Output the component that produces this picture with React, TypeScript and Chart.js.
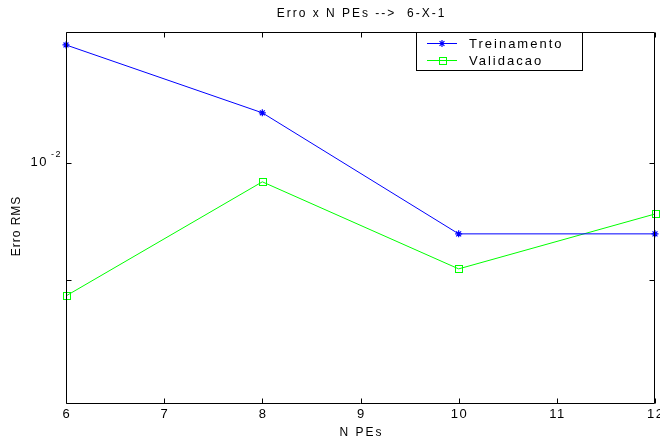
import React, { useEffect, useRef } from "react";
import { Chart, registerables } from "chart.js";

Chart.register(...registerables);

const xValues = [6, 8, 10, 12];
const treinamento = [0.0201, 0.01345, 0.00657, 0.00657];
const validacao = [0.00455, 0.00894, 0.00534, 0.00739];
const xTickValues = [6, 7, 8, 9, 10, 11, 12];
const yTickValues = [0.005, 0.01];
const yMin = 0.0024;
const yMax = 0.0217;
const titleText = "Erro x N PEs -->  6-X-1";
const xTitle = "N PEs";
const yTitle = "Erro RMS";
const seriesNames = ["Treinamento", "Validacao"];

const FONT = '"Liberation Sans", Arial, Helvetica, sans-serif';
const BLUE = "#0000ff";
const GREEN = "#00ff00";

function drawStar(ctx: CanvasRenderingContext2D, cx: number, cy: number, r: number, color: string) {
  ctx.save();
  ctx.strokeStyle = color;
  ctx.lineWidth = 1.2;
  ctx.beginPath();
  ctx.moveTo(cx - r, cy);
  ctx.lineTo(cx + r, cy);
  ctx.moveTo(cx, cy - r);
  ctx.lineTo(cx, cy + r);
  const d = r * 0.7;
  ctx.moveTo(cx - d, cy - d);
  ctx.lineTo(cx + d, cy + d);
  ctx.moveTo(cx - d, cy + d);
  ctx.lineTo(cx + d, cy - d);
  ctx.stroke();
  ctx.restore();
}

function drawSquare(ctx: CanvasRenderingContext2D, cx: number, cy: number, r: number, color: string) {
  ctx.save();
  ctx.strokeStyle = color;
  ctx.lineWidth = 1;
  ctx.strokeRect(Math.round(cx - r) + 0.5, Math.round(cy - r) + 0.5, 2 * r, 2 * r);
  ctx.restore();
}

const decorPlugin = {
  id: "matlabDecor",
  afterDatasetsDraw(chart: any) {
    const ctx: CanvasRenderingContext2D = chart.ctx;
    const { left, right, top, bottom } = chart.chartArea;
    const xs = chart.scales.x;
    const ys = chart.scales.y;
    ctx.save();
    xValues.forEach((v, i) => {
      const px = xs.getPixelForValue(v);
      drawStar(ctx, px, ys.getPixelForValue(treinamento[i]), 3.5, BLUE);
      drawSquare(ctx, px, ys.getPixelForValue(validacao[i]), 3.5, GREEN);
    });

    ctx.strokeStyle = "#000";
    ctx.lineWidth = 1;
    const L = Math.round(left) + 0.5;
    const R = Math.round(right) - 0.5;
    const T = Math.round(top) + 0.5;
    const B = Math.round(bottom) - 0.5;
    ctx.beginPath();
    ctx.moveTo(L, T);
    ctx.lineTo(R, T);
    ctx.lineTo(R, B);
    ctx.lineTo(L, B);
    ctx.closePath();
    ctx.stroke();

    const tl = 5;
    ctx.beginPath();
    xTickValues.forEach((v) => {
      const px = Math.round(xs.getPixelForValue(v)) + 0.5;
      ctx.moveTo(px, B);
      ctx.lineTo(px, B - tl);
      ctx.moveTo(px, T);
      ctx.lineTo(px, T + tl);
    });
    yTickValues.forEach((v) => {
      const py = Math.round(ys.getPixelForValue(v)) + 0.5;
      ctx.moveTo(L, py);
      ctx.lineTo(L + tl, py);
      ctx.moveTo(R, py);
      ctx.lineTo(R - tl, py);
    });
    ctx.stroke();

    ctx.fillStyle = "#000";
    ctx.textBaseline = "middle";
    ctx.textAlign = "center";
    (ctx as any).letterSpacing = "1.5px";
    ctx.font = `13px ${FONT}`;
    xTickValues.forEach((v) => {
      const px = xs.getPixelForValue(v);
      ctx.fillText(String(v), px + 0.75, bottom + 10);
    });
    (ctx as any).letterSpacing = "2px";
    ctx.font = `12px ${FONT}`;
    ctx.fillText(xTitle, (left + right) / 2 + 1, bottom + 29);
    ctx.fillText(titleText, (left + right) / 2 + 1, 14);

    const py = ys.getPixelForValue(0.01);
    (ctx as any).letterSpacing = "1.5px";
    ctx.textAlign = "right";
    ctx.font = `13px ${FONT}`;
    ctx.fillText("10", left - 18, py);
    ctx.textAlign = "left";
    ctx.font = `9px ${FONT}`;
    ctx.fillText("-2", left - 15, py - 8);

    ctx.save();
    (ctx as any).letterSpacing = "1px";
    ctx.font = `12px ${FONT}`;
    ctx.translate(17, 226);
    ctx.rotate(-Math.PI / 2);
    ctx.textAlign = "center";
    ctx.fillText(yTitle, 0, 0);
    ctx.restore();

    const lx0 = 416.5, ly0 = Math.round(top) + 0.5, lx1 = 582.5, ly1 = 70.5;
    ctx.fillStyle = "#fff";
    ctx.fillRect(lx0, ly0, lx1 - lx0, ly1 - ly0);
    ctx.strokeStyle = "#000";
    ctx.strokeRect(lx0, ly0, lx1 - lx0, ly1 - ly0);
    const rows = [43, 60];
    const colors = [BLUE, GREEN];
    rows.forEach((ry, i) => {
      ctx.strokeStyle = colors[i];
      ctx.lineWidth = 1;
      ctx.beginPath();
      ctx.moveTo(427, ry + 0.5);
      ctx.lineTo(457, ry + 0.5);
      ctx.stroke();
      if (i === 0) drawStar(ctx, 442, ry + 0.5, 3.5, BLUE);
      else drawSquare(ctx, 442, ry, 3.5, GREEN);
      ctx.fillStyle = "#000";
      ctx.font = `13px ${FONT}`;
      (ctx as any).letterSpacing = "2px";
      ctx.textAlign = "left";
      ctx.textBaseline = "middle";
      ctx.fillText(seriesNames[i], 469, ry + 1);
    });
    ctx.restore();
  },
};

export default function App() {
  const ref = useRef<HTMLCanvasElement | null>(null);
  useEffect(() => {
    if (!ref.current) return;
    const chart = new Chart(ref.current, {
      type: "line",
      data: {
        datasets: [
          {
            label: seriesNames[0],
            data: xValues.map((x, i) => ({ x, y: treinamento[i] })),
            borderColor: BLUE,
            borderWidth: 1,
            pointRadius: 0,
            fill: false,
            tension: 0,
            clip: false as any,
          },
          {
            label: seriesNames[1],
            data: xValues.map((x, i) => ({ x, y: validacao[i] })),
            borderColor: GREEN,
            borderWidth: 1,
            pointRadius: 0,
            fill: false,
            tension: 0,
            clip: false as any,
          },
        ],
      },
      options: {
        animation: false,
        responsive: false,
        events: [],
        layout: { padding: { top: 32, right: 5, left: 0, bottom: 0 } },
        plugins: { legend: { display: false }, title: { display: false }, tooltip: { enabled: false } },
        scales: {
          x: {
            type: "linear",
            min: 6,
            max: 12,
            ticks: { display: false },
            grid: { display: false },
            border: { display: false },
            afterFit: (s: any) => {
              s.height = 35;
            },
          },
          y: {
            type: "logarithmic",
            min: yMin,
            max: yMax,
            ticks: { display: false },
            grid: { display: false },
            border: { display: false },
            afterFit: (s: any) => {
              s.width = 66;
            },
          },
        },
      },
      plugins: [decorPlugin],
    });
    return () => chart.destroy();
  }, []);
  return (
    <div style={{ position: "absolute", left: 0, top: 0, width: 660, height: 439, background: "#fff" }}>
      <canvas ref={ref} width={660} height={439} />
    </div>
  );
}
